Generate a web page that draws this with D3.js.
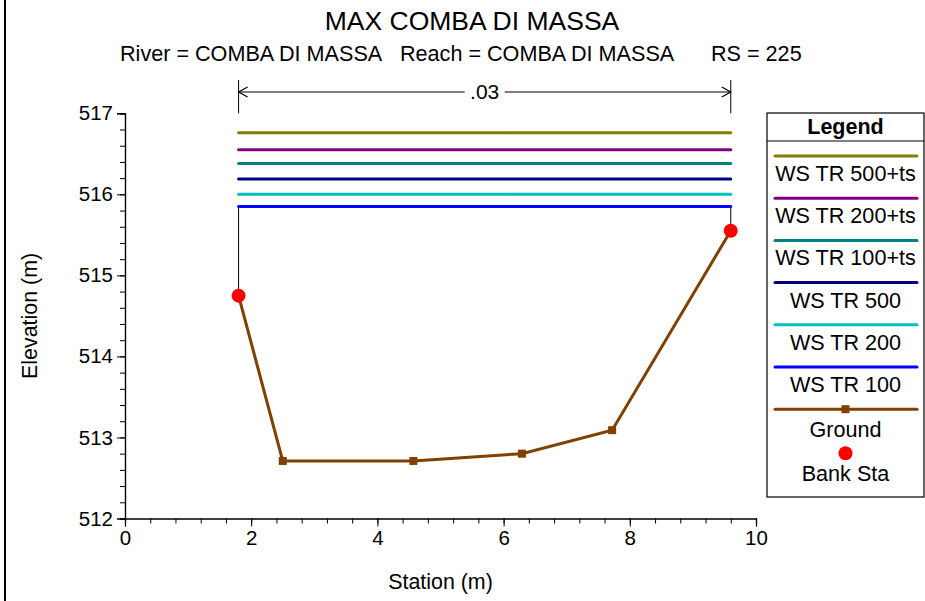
<!DOCTYPE html>
<html>
<head>
<meta charset="utf-8">
<script src="https://cdn.jsdelivr.net/npm/d3@7"></script>
<style>
  body { margin: 0; background: #fff; }
  svg { display: block; font-family: Arial, "Liberation Sans", sans-serif; }
  .axis .domain { stroke: #000; stroke-width: 1.2; }
  .axis .tick line { stroke: #000; }
  .axis text { font-size: 20.5px; fill: #000; font-family: Arial, "Liberation Sans", sans-serif; }
</style>
</head>
<body>
<div id="chart"></div>
<script>
// ground profile
var stations   = [1.8, 2.5, 4.57, 6.29, 7.72, 9.6];
var elevations = [514.75, 512.71, 512.71, 512.80, 513.09, 515.55];
var bankStations = [1.8, 9.6];

// water surfaces
var wsNames  = ["WS TR 500+ts", "WS TR 200+ts", "WS TR 100+ts", "WS TR 500", "WS TR 200", "WS TR 100"];
var wsValues = [516.76, 516.55, 516.38, 516.19, 516.00, 515.85];
var wsColors = ["#808000", "#800080", "#008080", "#000080", "#00c0c0", "#0000ff"];

var xTicks = [0, 2, 4, 6, 8, 10];
var yTicks = [512, 513, 514, 515, 516, 517];
var nValue = ".03";

var W = 925, H = 601;
var svg = d3.select("#chart").append("svg").attr("width", W).attr("height", H);

var x = d3.scaleLinear().domain([0, 10]).range([125, 756]);
var y = d3.scaleLinear().domain([512, 517]).range([518.5, 113.3]);

// outer frame edge on the left
svg.append("line").attr("x1", 5).attr("x2", 5).attr("y1", 0).attr("y2", H)
  .attr("stroke", "#000").attr("stroke-width", 2);

// titles
svg.append("text").attr("x", 472).attr("y", 30).attr("text-anchor", "middle")
  .style("font-size", "26.5px").text("MAX COMBA DI MASSA");
svg.append("text").attr("x", 120).attr("y", 61).style("font-size", "21.6px").text("River = COMBA DI MASSA");
svg.append("text").attr("x", 400).attr("y", 61).style("font-size", "21.6px").text("Reach = COMBA DI MASSA");
svg.append("text").attr("x", 711).attr("y", 61).style("font-size", "21.6px").text("RS = 225");

// axes: minor then major
svg.append("g").attr("class", "axis").attr("transform", "translate(0," + y(512) + ")")
  .call(d3.axisBottom(x).tickValues(d3.range(0, 10.01, 0.4)).tickSize(5).tickFormat(""));
svg.append("g").attr("class", "axis").attr("transform", "translate(0," + y(512) + ")")
  .call(d3.axisBottom(x).tickValues(xTicks).tickSize(8).tickPadding(4).tickFormat(d3.format("d")));
svg.append("g").attr("class", "axis").attr("transform", "translate(" + x(0) + ",0)")
  .call(d3.axisLeft(y).tickValues(d3.range(512, 517.01, 0.2)).tickSize(5).tickFormat(""));
svg.append("g").attr("class", "axis").attr("transform", "translate(" + x(0) + ",0)")
  .call(d3.axisLeft(y).tickValues(yTicks).tickSize(8).tickPadding(4).tickFormat(d3.format("d")));

svg.append("text").attr("x", x(5)).attr("y", 589).attr("text-anchor", "middle")
  .style("font-size", "21.4px").text("Station (m)");
svg.append("text").attr("transform", "translate(37," + y(514.5) + ") rotate(-90)")
  .attr("text-anchor", "middle").style("font-size", "21.4px").text("Elevation (m)");

// manning n marker
var nY = 92;
bankStations.forEach(function (s) {
  svg.append("line").attr("x1", x(s)).attr("x2", x(s)).attr("y1", 80).attr("y2", y(517))
    .attr("stroke", "#000").attr("stroke-width", 1);
});
var nMid = (x(bankStations[0]) + x(bankStations[1])) / 2;
svg.append("text").attr("x", nMid).attr("y", nY + 7).attr("text-anchor", "middle")
  .style("font-size", "21px").text(nValue);
svg.append("line").attr("x1", x(bankStations[0])).attr("x2", nMid - 20).attr("y1", nY).attr("y2", nY)
  .attr("stroke", "#000").attr("stroke-width", 1.2);
svg.append("line").attr("x1", nMid + 20).attr("x2", x(bankStations[1])).attr("y1", nY).attr("y2", nY)
  .attr("stroke", "#000").attr("stroke-width", 1.2);
svg.append("path")
  .attr("d", "M" + (x(bankStations[0]) + 9) + "," + (nY - 5) + "L" + x(bankStations[0]) + "," + nY + "L" + (x(bankStations[0]) + 9) + "," + (nY + 5)
    + "M" + (x(bankStations[1]) - 9) + "," + (nY - 5) + "L" + x(bankStations[1]) + "," + nY + "L" + (x(bankStations[1]) - 9) + "," + (nY + 5))
  .attr("fill", "none").attr("stroke", "#000").attr("stroke-width", 1.2);

// vertical walls from ground ends up to lowest water surface
var wsMin = d3.min(wsValues);
[0, stations.length - 1].forEach(function (i) {
  svg.append("line").attr("x1", x(stations[i])).attr("x2", x(stations[i]))
    .attr("y1", y(elevations[i])).attr("y2", y(wsMin))
    .attr("stroke", "#000").attr("stroke-width", 1);
});

// water surfaces
svg.selectAll(".ws").data(wsValues).enter().append("line").attr("class", "ws")
  .attr("x1", x(bankStations[0])).attr("x2", x(bankStations[1]))
  .attr("y1", function (d) { return y(d); }).attr("y2", function (d) { return y(d); })
  .attr("stroke", function (d, i) { return wsColors[i]; })
  .attr("stroke-width", 3).attr("stroke-linecap", "round");

// ground
var ground = stations.map(function (s, i) { return [s, elevations[i]]; });
svg.append("path").datum(ground)
  .attr("d", d3.line().x(function (d) { return x(d[0]); }).y(function (d) { return y(d[1]); }))
  .attr("fill", "none").attr("stroke", "#804000").attr("stroke-width", 3);
svg.selectAll(".gpt").data(ground).enter().append("rect").attr("class", "gpt")
  .attr("x", function (d) { return x(d[0]) - 4; }).attr("y", function (d) { return y(d[1]) - 4; })
  .attr("width", 8).attr("height", 8).attr("fill", "#804000");

// bank stations
svg.selectAll(".bank").data(bankStations).enter().append("circle").attr("class", "bank")
  .attr("cx", function (d) { return x(d); })
  .attr("cy", function (d) { return y(elevations[stations.indexOf(d)]); })
  .attr("r", 7).attr("fill", "#ff0000");

// legend
var lg = svg.append("g");
var lx0 = 767, lx1 = 924, ly0 = 113, ly1 = 497, lcx = (lx0 + lx1) / 2;
lg.append("rect").attr("x", lx0).attr("y", ly0).attr("width", lx1 - lx0).attr("height", ly1 - ly0)
  .attr("fill", "#fff").attr("stroke", "#000").attr("stroke-width", 1.2);
lg.append("line").attr("x1", lx0).attr("x2", lx1).attr("y1", 141).attr("y2", 141).attr("stroke", "#000");
lg.append("text").attr("x", lcx).attr("y", 134).attr("text-anchor", "middle")
  .style("font-size", "21.5px").style("font-weight", "bold").text("Legend");

var rowH = 42.2;
wsNames.forEach(function (name, i) {
  var ly = 156 + i * rowH;
  lg.append("line").attr("x1", 775).attr("x2", 917).attr("y1", ly).attr("y2", ly)
    .attr("stroke", wsColors[i]).attr("stroke-width", 3).attr("stroke-linecap", "round");
  lg.append("text").attr("x", lcx).attr("y", ly + 25).attr("text-anchor", "middle")
    .style("font-size", "21.6px").text(name);
});
var gy = 156 + 6 * rowH;
lg.append("line").attr("x1", 775).attr("x2", 917).attr("y1", gy).attr("y2", gy)
  .attr("stroke", "#804000").attr("stroke-width", 3).attr("stroke-linecap", "round");
lg.append("rect").attr("x", lcx - 4).attr("y", gy - 4).attr("width", 8).attr("height", 8).attr("fill", "#804000");
lg.append("text").attr("x", lcx).attr("y", gy + 28).attr("text-anchor", "middle").style("font-size", "21.6px").text("Ground");
lg.append("circle").attr("cx", lcx).attr("cy", gy + 44).attr("r", 7).attr("fill", "#ff0000");
lg.append("text").attr("x", lcx).attr("y", gy + 72).attr("text-anchor", "middle").style("font-size", "21.6px").text("Bank Sta");
</script>
</body>
</html>
